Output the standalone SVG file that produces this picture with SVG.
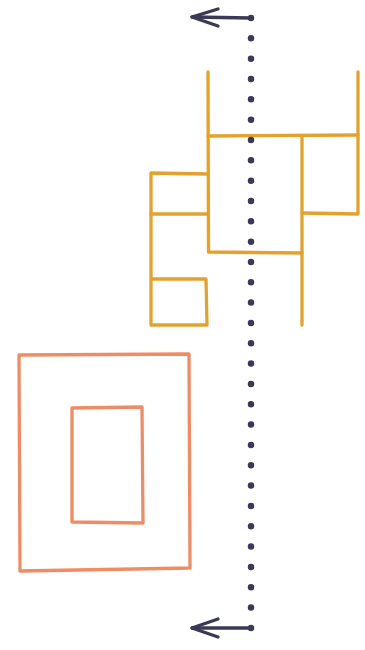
<svg xmlns="http://www.w3.org/2000/svg" width="365" height="650" viewBox="0 0 365 650">
<style>
.o{fill:none;stroke:#E5A12A;stroke-width:3.3;stroke-linecap:round;stroke-linejoin:round}
.s{fill:none;stroke:#F08C64;stroke-width:3.3;stroke-linecap:round;stroke-linejoin:round}
.d{fill:none;stroke:#3B3A55;stroke-width:6.5;stroke-linecap:round;stroke-dasharray:0 20.33}
.a{fill:none;stroke:#3B3A55;stroke-width:3.3;stroke-linecap:round;stroke-linejoin:round}
</style>
<rect width="365" height="650" fill="#ffffff"/>
<g id="orange-structure">
<path class="o" d="M208 72 L208.5 252 L302 253"/>
<path class="o" d="M208 136 L358 135"/>
<path class="o" d="M358 72 L358 214 L302 213"/>
<path class="o" d="M302 136 L302 325"/>
<path class="o" d="M208 174 L151 173 L151 325 L207 325 L206 279 L151 279"/>
<path class="o" d="M151 214 L208 214"/>
</g>
<g id="outer-rect">
<path class="s" d="M19 355 L189 354 L190 568 L20 571 Z"/>
</g>
<g id="inner-rect">
<path class="s" d="M72 408 L142 407 L143 523 L72 522 Z"/>
</g>
<g id="connectors">
<path class="d" d="M251 18 L251 629"/>
<path class="a" d="M251 18 L192 17"/>
<path class="a" d="M218 9 L192 17 L218 26"/>
<path class="a" d="M251 628 L192 628"/>
<path class="a" d="M218 619 L192 628 L218 637"/>
</g>
</svg>
